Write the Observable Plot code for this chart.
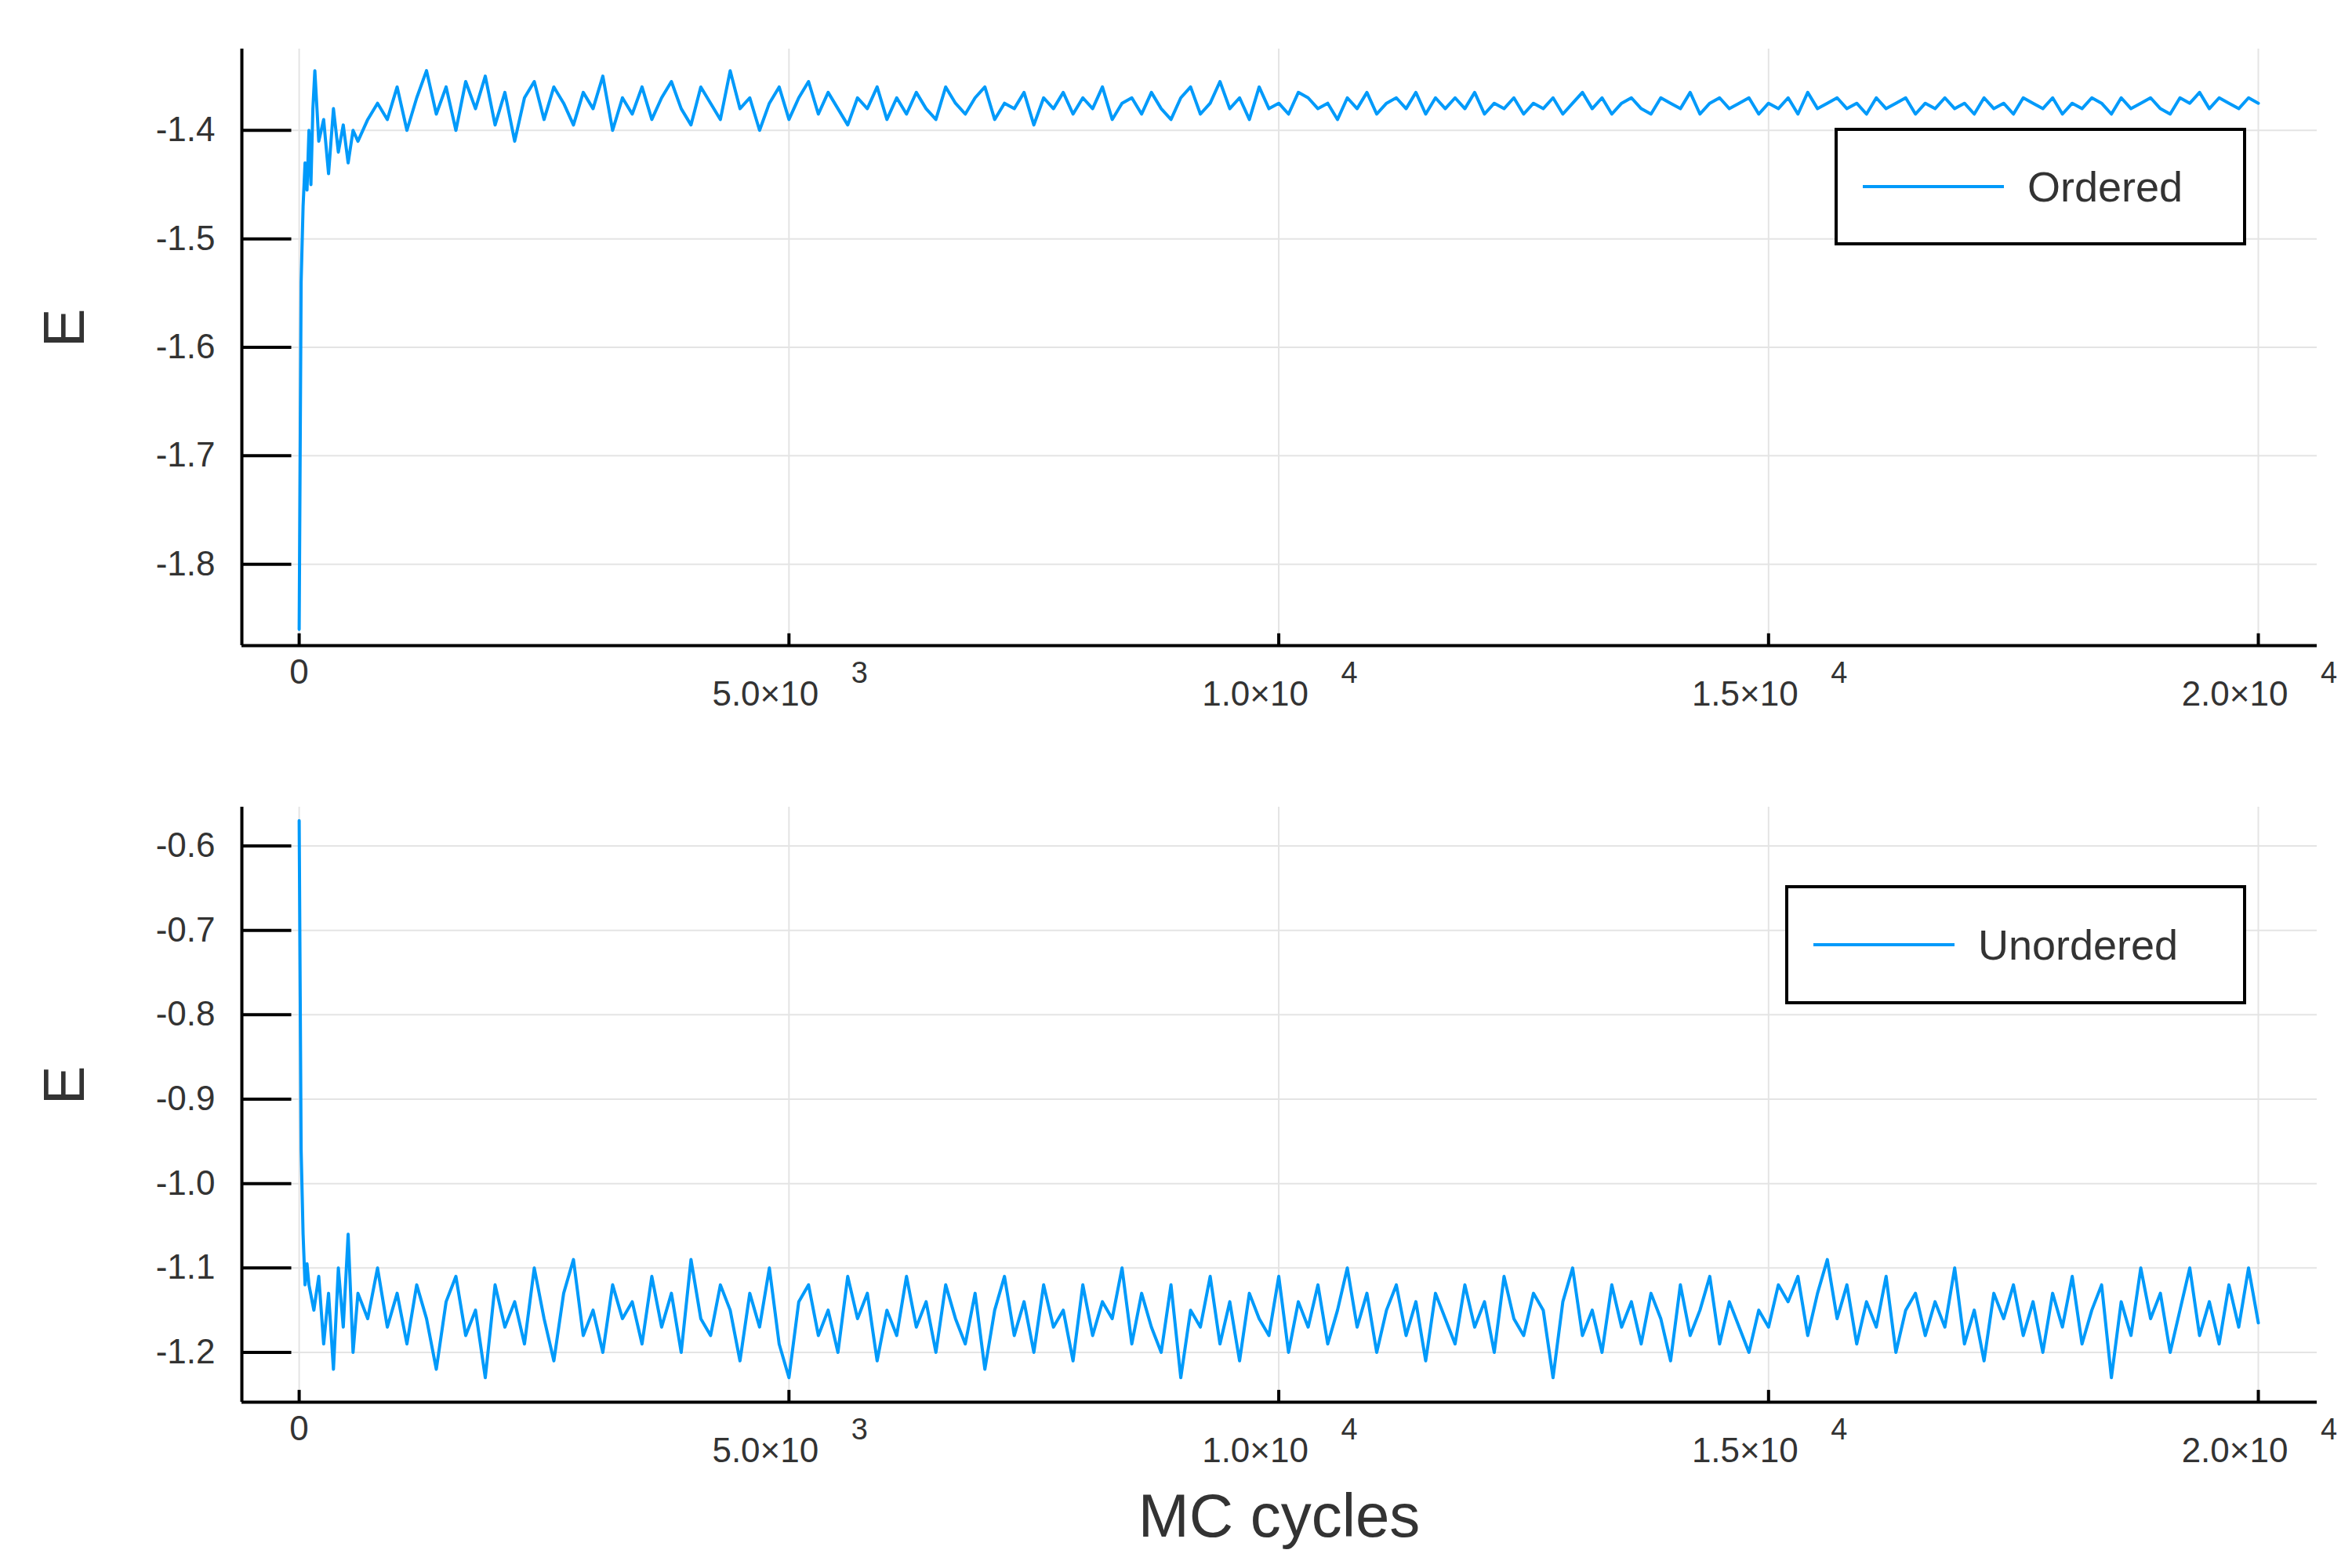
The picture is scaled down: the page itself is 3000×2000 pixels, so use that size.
<!DOCTYPE html>
<html><head><meta charset="utf-8">
<script src="https://cdn.jsdelivr.net/npm/d3@7"></script>
<script src="https://cdn.jsdelivr.net/npm/@observablehq/plot@0.6"></script>
<style>
body{margin:0;background:#fff;font-family:"Liberation Sans",sans-serif}
#wrap{position:relative;width:3000px}
.leg{position:absolute;border:4px solid #000;background:#fff;display:flex;align-items:center;font-size:54px;color:#333}
.leg span.l{display:inline-block;width:180px;height:4px;background:#009AFA;margin:0 30px 0 32px}
</style></head>
<body><div id="wrap"></div>
<script>
// early points (dense), then every 100 cycles from 800
const orderedHeadX = [0,20,40,60,80,100,120,140,160,200,250,300,350,400,450,500,550,600,700];
const orderedHeadY = [-1.86,-1.54,-1.47,-1.43,-1.455,-1.40,-1.45,-1.38,-1.345,-1.41,-1.39,-1.44,-1.38,-1.42,-1.395,-1.43,-1.40,-1.41,-1.39];
const orderedTail = [
-1.375,-1.39,-1.36,-1.40,-1.37,-1.345,-1.385,-1.36,-1.40,-1.355,
-1.38,-1.35,-1.395,-1.365,-1.41,-1.37,-1.355,-1.39,-1.36,-1.375,
-1.395,-1.365,-1.38,-1.35,-1.40,-1.37,-1.385,-1.36,-1.39,-1.37,
-1.355,-1.38,-1.395,-1.36,-1.375,-1.39,-1.345,-1.38,-1.37,-1.40,
-1.375,-1.36,-1.39,-1.37,-1.355,-1.385,-1.365,-1.38,-1.395,-1.37,
-1.38,-1.36,-1.39,-1.37,-1.385,-1.365,-1.38,-1.39,-1.36,-1.375,
-1.385,-1.37,-1.36,-1.39,-1.375,-1.38,-1.365,-1.395,-1.37,-1.38,
-1.365,-1.385,-1.37,-1.38,-1.36,-1.39,-1.375,-1.37,-1.385,-1.365,
-1.38,-1.39,-1.37,-1.36,-1.385,-1.375,-1.355,-1.38,-1.37,-1.39,
-1.36,-1.38,-1.375,-1.385,-1.365,-1.37,-1.38,-1.375,-1.39,-1.37,
-1.38,-1.365,-1.385,-1.375,-1.37,-1.38,-1.365,-1.385,-1.37,-1.38,
-1.37,-1.38,-1.365,-1.385,-1.375,-1.38,-1.37,-1.385,-1.375,-1.38,
-1.37,-1.385,-1.375,-1.365,-1.38,-1.37,-1.385,-1.375,-1.37,-1.38,
-1.385,-1.37,-1.375,-1.38,-1.365,-1.385,-1.375,-1.37,-1.38,-1.375,
-1.37,-1.385,-1.375,-1.38,-1.37,-1.385,-1.365,-1.38,-1.375,-1.37,
-1.38,-1.375,-1.385,-1.37,-1.38,-1.375,-1.37,-1.385,-1.375,-1.38,
-1.37,-1.38,-1.375,-1.385,-1.37,-1.38,-1.375,-1.385,-1.37,-1.375,
-1.38,-1.37,-1.385,-1.375,-1.38,-1.37,-1.375,-1.385,-1.37,-1.38,
-1.375,-1.37,-1.38,-1.385,-1.37,-1.375,-1.365,-1.38,-1.37,-1.375,
-1.38,-1.37,-1.375];
const unorderedHeadX = [0,20,40,60,80,100,150,200,250,300,350,400,450,500,550,600,700];
const unorderedHeadY = [-0.57,-0.96,-1.06,-1.12,-1.095,-1.12,-1.15,-1.11,-1.19,-1.13,-1.22,-1.10,-1.17,-1.06,-1.20,-1.13,-1.16];
const unorderedTail = [
-1.10,-1.17,-1.13,-1.19,-1.12,-1.16,-1.22,-1.14,-1.11,-1.18,
-1.15,-1.23,-1.12,-1.17,-1.14,-1.19,-1.10,-1.16,-1.21,-1.13,
-1.09,-1.18,-1.15,-1.20,-1.12,-1.16,-1.14,-1.19,-1.11,-1.17,
-1.13,-1.20,-1.09,-1.16,-1.18,-1.12,-1.15,-1.21,-1.13,-1.17,
-1.10,-1.19,-1.23,-1.14,-1.12,-1.18,-1.15,-1.20,-1.11,-1.16,
-1.13,-1.21,-1.15,-1.18,-1.11,-1.17,-1.14,-1.20,-1.12,-1.16,
-1.19,-1.13,-1.22,-1.15,-1.11,-1.18,-1.14,-1.20,-1.12,-1.17,
-1.15,-1.21,-1.12,-1.18,-1.14,-1.16,-1.10,-1.19,-1.13,-1.17,
-1.20,-1.12,-1.23,-1.15,-1.17,-1.11,-1.19,-1.14,-1.21,-1.13,
-1.16,-1.18,-1.11,-1.20,-1.14,-1.17,-1.12,-1.19,-1.15,-1.10,
-1.17,-1.13,-1.20,-1.15,-1.12,-1.18,-1.14,-1.21,-1.13,-1.16,
-1.19,-1.12,-1.17,-1.14,-1.20,-1.11,-1.16,-1.18,-1.13,-1.15,
-1.23,-1.14,-1.10,-1.18,-1.15,-1.20,-1.12,-1.17,-1.14,-1.19,
-1.13,-1.16,-1.21,-1.12,-1.18,-1.15,-1.11,-1.19,-1.14,-1.17,
-1.20,-1.15,-1.17,-1.12,-1.14,-1.11,-1.18,-1.13,-1.09,-1.16,
-1.12,-1.19,-1.14,-1.17,-1.11,-1.20,-1.15,-1.13,-1.18,-1.14,
-1.17,-1.10,-1.19,-1.15,-1.21,-1.13,-1.16,-1.12,-1.18,-1.14,
-1.20,-1.13,-1.17,-1.11,-1.19,-1.15,-1.12,-1.23,-1.14,-1.18,
-1.10,-1.16,-1.13,-1.20,-1.15,-1.10,-1.18,-1.14,-1.19,-1.12,
-1.17,-1.10,-1.165];
const xTicks = [0, 5000, 10000, 15000, 20000];
const xMant = ["0", "5.0×10", "1.0×10", "1.5×10", "2.0×10"];
const xExp = ["", "3", "4", "4", "4"];
const orderedYTicks = [-1.8, -1.7, -1.6, -1.5, -1.4];
const unorderedYTicks = [-1.2, -1.1, -1.0, -0.9, -0.8, -0.7, -0.6];

const build = (hx, hy, tail) => hx.map((x, i) => ({x, y: hy[i]}))
  .concat(tail.map((y, i) => ({x: 800 + i * 100, y})));
const ordered = build(orderedHeadX, orderedHeadY, orderedTail);
const unordered = build(unorderedHeadX, unorderedHeadY, unorderedTail);
const tickData = xTicks.map((x, i) => ({x, m: xMant[i], e: xExp[i]}));

function panel(data, yDomain, yTicks, mt, h, mb) {
  const x0 = -585, x1 = 20600;
  const dy = yDomain[1] - yDomain[0];
  return Plot.plot({
    width: 3000, height: h,
    marginLeft: 308, marginRight: 45, marginTop: mt, marginBottom: mb,
    style: {fontFamily: "Liberation Sans", fontSize: "44px", color: "#333"},
    x: {domain: [x0, x1], axis: null},
    y: {domain: yDomain, axis: null},
    marks: [
      Plot.ruleX(xTicks, {stroke: "#e4e4e4", strokeWidth: 2}),
      Plot.ruleY(yTicks, {stroke: "#e4e4e4", strokeWidth: 2}),
      Plot.ruleY(yTicks, {x1: x0, x2: x0 + (x1 - x0) * 0.024, stroke: "#000", strokeWidth: 4}),
      Plot.ruleX(xTicks, {y1: yDomain[0], y2: yDomain[0] + dy * 0.02, stroke: "#000", strokeWidth: 4}),
      Plot.text(yTicks, {y: d => d, text: d => d.toFixed(1), frameAnchor: "left", textAnchor: "end", dx: -34, fontSize: 44, fill: "#333"}),
      Plot.line(data, {x: "x", y: "y", stroke: "#009AFA", strokeWidth: 4}),
      Plot.ruleX([x0], {stroke: "#000", strokeWidth: 4}),
      Plot.ruleY([yDomain[0]], {stroke: "#000", strokeWidth: 4}),
      Plot.text(tickData.filter(d => d.x === 0), {x: "x", text: "m", frameAnchor: "bottom", dy: 48, fontSize: 44, fill: "#333"}),
      Plot.text(tickData.filter(d => d.x !== 0), {x: "x", text: "m", frameAnchor: "bottom", dy: 76, dx: -30, fontSize: 44, fill: "#333"}),
      Plot.text(tickData.filter(d => d.x !== 0), {x: "x", text: "e", frameAnchor: "bottom", dy: 47, dx: 90, fontSize: 38, fill: "#333"}),
      Plot.text(["E"], {frameAnchor: "left", dx: -225, rotate: -90, fontSize: 74, fill: "#333"})
    ]
  });
}

const wrap = document.getElementById("wrap");
wrap.append(panel(ordered, [-1.875, -1.325], orderedYTicks, 62, 960, 137));
wrap.append(panel(unordered, [-1.259, -0.554], unorderedYTicks, 69, 1040, 212));

const lab = document.createElement("div");
lab.textContent = "MC cycles";
lab.style.cssText = "position:absolute;left:0;width:2955px;padding-left:308px;box-sizing:border-box;text-align:center;top:1888px;font-size:78px;color:#333;";
wrap.append(lab);

[["Ordered", 2340, 163, 525, 150], ["Unordered", 2277, 1129, 588, 152]].forEach(([t, l, top, w, h]) => {
  const d = document.createElement("div");
  d.className = "leg";
  d.style.cssText = `left:${l}px;top:${top}px;width:${w}px;height:${h}px;box-sizing:border-box;`;
  d.innerHTML = `<span class="l"></span>${t}`;
  wrap.append(d);
});
</script></body></html>
